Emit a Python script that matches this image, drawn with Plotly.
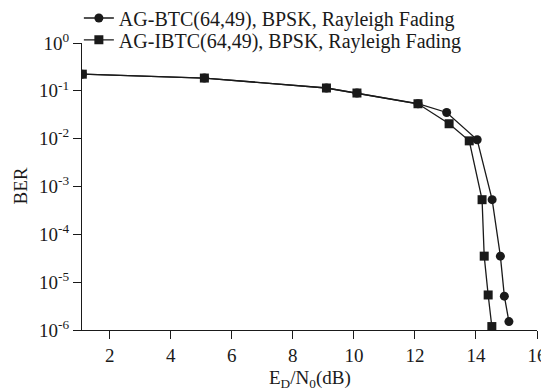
import plotly.graph_objects as go

# AG-BTC(64,49) -- circles
btc_x = [1.1, 5.1, 9.1, 10.1, 12.1, 13.04, 14.04, 14.53, 14.8, 14.93, 15.08]
btc_y = [0.223, 0.185, 0.1146, 0.09, 0.0537, 0.0353, 0.0095, 5.3e-4, 3.5e-5, 5.1e-6, 1.5e-6]
# AG-IBTC(64,49) -- squares
ibtc_x = [1.1, 5.1, 9.1, 10.1, 12.1, 13.12, 13.78, 14.2, 14.27, 14.4, 14.52]
ibtc_y = [0.223, 0.185, 0.1146, 0.09, 0.0537, 0.0205, 0.009, 5.3e-4, 3.5e-5, 5.4e-6, 1.18e-6]

x_ticks = [2, 4, 6, 8, 10, 12, 14, 16]
y_tickvals = [1, 1e-1, 1e-2, 1e-3, 1e-4, 1e-5, 1e-6]
y_ticktext = ["10<sup>0</sup>", "10<sup>-1</sup>", "10<sup>-2</sup>", "10<sup>-3</sup>",
              "10<sup>-4</sup>", "10<sup>-5</sup>", "10<sup>-6</sup>"]

names = ["AG-BTC(64,49), BPSK, Rayleigh Fading", "AG-IBTC(64,49), BPSK, Rayleigh Fading"]
x_title = "E<sub>D</sub>/N<sub>0</sub>(dB)"
y_title = "BER"

FONT = "Liberation Serif"
INK = "#1a1a1a"

fig = go.Figure()
fig.add_trace(go.Scatter(x=btc_x, y=btc_y, mode="lines+markers", name=names[0],
                         legend="legend",
                         line=dict(color=INK, width=1.3),
                         marker=dict(symbol="circle", size=9, color=INK)))
fig.add_trace(go.Scatter(x=ibtc_x, y=ibtc_y, mode="lines+markers", name=names[1],
                         legend="legend2",
                         line=dict(color=INK, width=1.3),
                         marker=dict(symbol="square", size=9, color=INK)))

leg_common = dict(xref="container", yref="container", xanchor="left", yanchor="middle",
                  bgcolor="rgba(0,0,0,0)", borderwidth=0,
                  font=dict(size=20, family=FONT, color=INK), itemwidth=30)

# page body has an 8px default margin, so the figure is 8px smaller than the window
fig.update_layout(
    width=541, height=384,
    margin=dict(l=74, r=12, t=35, b=62, autoexpand=False),
    paper_bgcolor="white", plot_bgcolor="white",
    font=dict(family=FONT, size=19, color=INK),
    showlegend=True,
    legend=dict(x=0.131, y=0.974, **leg_common),
    legend2=dict(x=0.131, y=0.917, **leg_common),
    xaxis=dict(range=[1.09, 16], tickvals=x_ticks, showgrid=False, zeroline=False,
               showline=True, linecolor=INK, linewidth=1.3, automargin=False,
               ticks="outside", ticklen=8, tickwidth=1.3, tickcolor=INK,
               tickfont=dict(size=19, family=FONT, color=INK)),
    yaxis=dict(type="log", range=[-6, 0], tickvals=y_tickvals, ticktext=y_ticktext,
               showgrid=False, zeroline=False, automargin=False,
               showline=True, linecolor=INK, linewidth=1.3,
               ticks="outside", ticklen=8, tickwidth=1.3, tickcolor=INK,
               tickfont=dict(size=19, family=FONT, color=INK)),
    annotations=[
        dict(text=x_title, xref="paper", yref="paper", x=0.5, y=-0.172,
             xanchor="center", yanchor="middle", showarrow=False,
             font=dict(size=19, family=FONT, color=INK)),
        dict(text=y_title, xref="paper", yref="paper", x=-0.135, y=0.502,
             xanchor="center", yanchor="middle", showarrow=False, textangle=-90,
             font=dict(size=19, family=FONT, color=INK)),
    ],
)

fig.write_html("out.html")
